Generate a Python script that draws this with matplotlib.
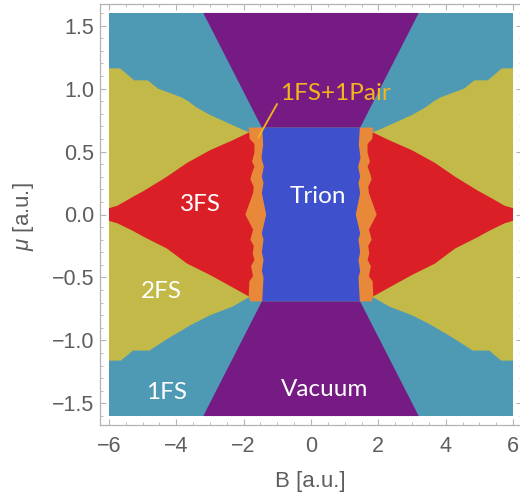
import numpy as np
from matplotlib import pyplot as plt
from matplotlib.ticker import MultipleLocator

# phase boundaries in the (B, mu) plane, left half (B < 0); the right half is the mirror image
# upper / lower edge of the 2FS region (border with 1FS)
B_2fs_top = [-6.0, -5.67, -5.25, -4.85, -4.55, -4.25, -3.85, -3.65, -3.4, -3.0, -2.5, -2.0, -1.8]
mu_2fs_top = [1.16, 1.16, 1.065, 1.065, 1.0, 0.97, 0.93, 0.90, 0.85, 0.79, 0.73, 0.67, 0.65]
B_2fs_bot = [-6.0, -5.65, -5.29, -4.8, -4.28, -3.59, -3.0, -2.32, -1.8]
mu_2fs_bot = [-1.16, -1.16, -1.08, -1.08, -0.99, -0.88, -0.80, -0.73, -0.65]

# upper / lower edge of the 3FS region (border with 2FS)
B_3fs_top = [-6.0, -5.75, -5.29, -4.95, -4.28, -3.68, -3.0, -2.32, -1.85]
mu_3fs_top = [0.05, 0.07, 0.14, 0.19, 0.30, 0.41, 0.51, 0.59, 0.65]
B_3fs_bot = [-6.0, -5.75, -5.29, -4.95, -4.28, -3.68, -3.0, -2.32, -1.85]
mu_3fs_bot = [-0.05, -0.07, -0.13, -0.18, -0.27, -0.39, -0.48, -0.58, -0.65]

# vacuum wedge (upper one; the lower one is mirrored in mu)
B_vac = [-3.2, -1.46, 1.46, 3.2]
mu_vac = [1.6, 0.69, 0.69, 1.6]

# trion block
B_trion = [-1.46, 1.46]
mu_trion = [-0.69, 0.69]

# 1FS+1Pair strip: edge towards 3FS and edge towards the trion
mu_pair_l = [0.69, 0.60, 0.56, 0.49, 0.42, 0.38, 0.33, 0.28, 0.22, 0.17, 0.0,
             -0.12, -0.20, -0.25, -0.31, -0.36, -0.41, -0.49, -0.53, -0.65, -0.69]
B_pair_l = [-1.85, -1.82, -1.68, -1.68, -1.75, -1.68, -1.75, -1.80, -1.70, -1.72, -1.95,
            -1.72, -1.80, -1.70, -1.73, -1.68, -1.78, -1.72, -1.83, -1.85, -1.80]
mu_pair_r = [-0.69, -0.50, -0.45, -0.36, -0.30, -0.20, -0.15, 0.0, 0.17, 0.25, 0.30, 0.38, 0.45, 0.55, 0.69]
B_pair_r = [-1.45, -1.41, -1.46, -1.41, -1.46, -1.41, -1.46, -1.33, -1.46, -1.41, -1.46, -1.40, -1.47, -1.42, -1.45]

labels = ['3FS', 'Trion', '2FS', '1FS', 'Vacuum']
label_B = [-3.27, 0.19, -4.45, -4.28, 0.39]
label_mu = [0.024, 0.095, -0.665, -1.465, -1.44]

c_1fs = '#4E9AB4'
c_2fs = '#C3B948'
c_3fs = '#DA2026'
c_pair = '#E8893A'
c_trion = '#3E50CC'
c_vac = '#771B84'
c_gold = '#F2B51C'

plt.rcParams['font.family'] = ['Liberation Sans', 'DejaVu Sans']
plt.rcParams['mathtext.fontset'] = 'custom'
plt.rcParams['mathtext.it'] = 'Liberation Sans:italic'

fig = plt.figure(figsize=(5.2, 4.97), dpi=100)
ax = fig.add_axes([100 / 520, 72 / 497, 422 / 520, 421 / 497])


def region(B, mu, color):
    ax.fill(B, mu, color=color, lw=0)


region([-6, 6, 6, -6], [-1.6, -1.6, 1.6, 1.6], c_1fs)

for s in (-1, 1):
    # 2FS, drawn as one polygon per side, the 3FS patch goes on top of it
    B = np.concatenate([B_2fs_top, [-1.6, -1.6], B_2fs_bot[::-1]])
    mu = np.concatenate([mu_2fs_top, [0.65, -0.65], mu_2fs_bot[::-1]])
    region(s * B, mu, c_2fs)

    B = np.concatenate([B_3fs_top, [-1.3, -1.3], B_3fs_bot[::-1]])
    mu = np.concatenate([mu_3fs_top, [0.65, -0.65], mu_3fs_bot[::-1]])
    region(s * B, mu, c_3fs)

    region(B_vac, s * np.array(mu_vac), c_vac)

region([B_trion[0], B_trion[1], B_trion[1], B_trion[0]],
       [mu_trion[0], mu_trion[0], mu_trion[1], mu_trion[1]], c_trion)

for s in (-1, 1):
    B = np.concatenate([B_pair_l, B_pair_r])
    mu = np.concatenate([mu_pair_l, mu_pair_r])
    region(s * B, mu, c_pair)

for txt, x, y in zip(labels, label_B, label_mu):
    ax.text(x, y, txt, color='white', fontsize=17.5, family='Lato',
            ha='center', va='baseline')

ax.annotate('1FS+1Pair', xy=(-1.57, 0.61), xytext=(0.74, 0.908),
            color=c_gold, fontsize=17.5, family='Lato', ha='center', va='baseline',
            arrowprops=dict(arrowstyle='-', color=c_gold, lw=1.3,
                            relpos=(0.0, 0.3), shrinkA=1, shrinkB=0))

ax.set_xlim(-6.267, 6.267)
ax.set_ylim(-1.671, 1.671)

ax.xaxis.set_major_locator(MultipleLocator(2))
ax.xaxis.set_minor_locator(MultipleLocator(0.5))
ax.yaxis.set_major_locator(MultipleLocator(0.5))
ax.yaxis.set_minor_locator(MultipleLocator(0.1))
ax.yaxis.set_major_formatter(lambda v, pos: f'{v:.1f}'.replace('-', '\u2212'))

grey = '#B4B4B4'
ax.tick_params(which='both', direction='in', top=True, right=True,
               color=grey, labelcolor='#5E5E5E', labelsize=15.5)
ax.tick_params(which='major', length=4.5, width=0.8)
ax.tick_params(which='minor', length=2.5, width=0.6)
ax.tick_params(axis='x', pad=8)
ax.tick_params(axis='y', pad=4)
for sp in ax.spines.values():
    sp.set_color(grey)
    sp.set_linewidth(0.9)

ax.set_xlabel('B [a.u.]', fontsize=16, color='#5E5E5E', va='center')
ax.set_ylabel(r'$\mu$ [a.u.]', fontsize=16, color='#5E5E5E', va='center')
ax.xaxis.set_label_coords(0.4976, -0.135)
ax.yaxis.set_label_coords(-0.182, 0.494)

fig.savefig('out.png', dpi=100)
